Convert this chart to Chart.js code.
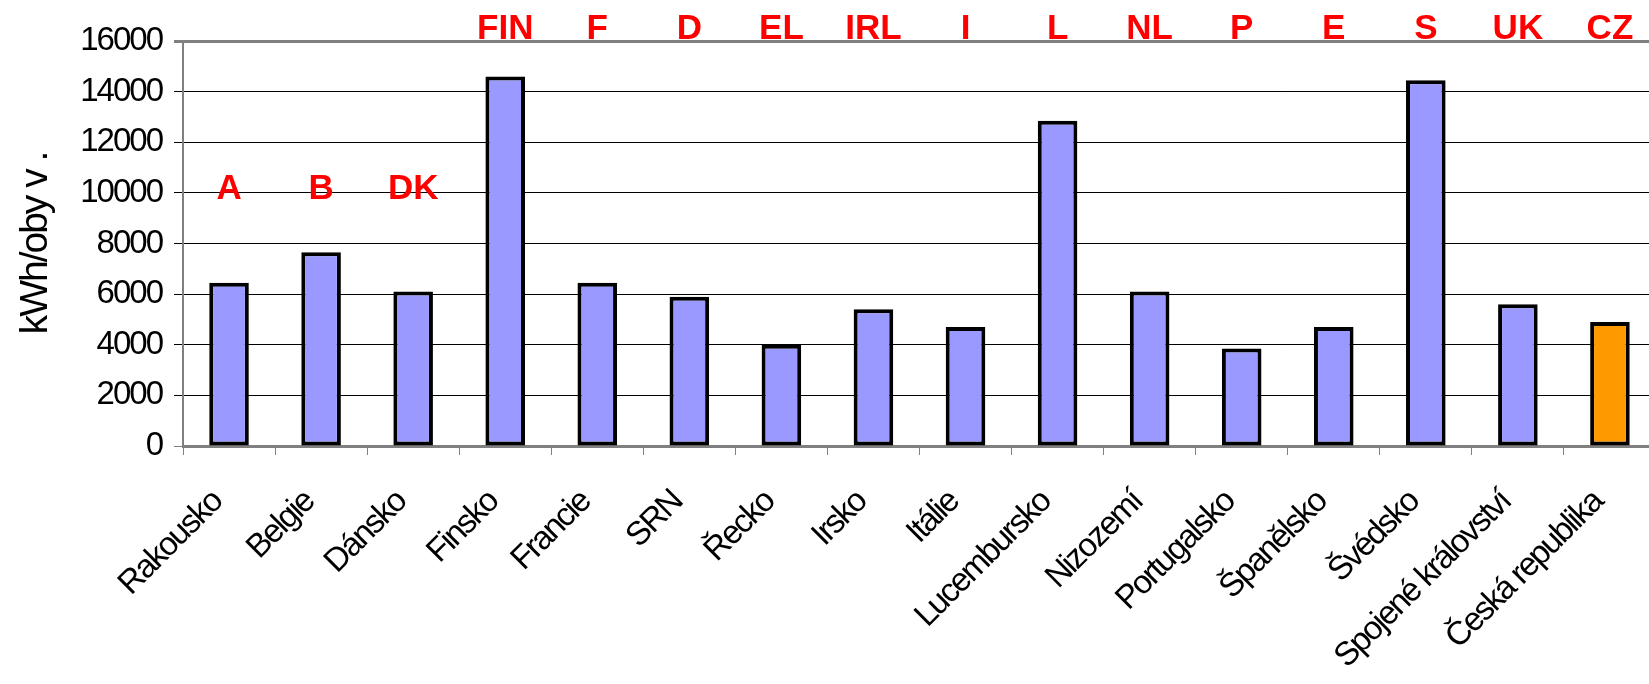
<!DOCTYPE html>
<html>
<head>
<meta charset="utf-8">
<script src="https://cdn.jsdelivr.net/npm/chart.js@4/dist/chart.umd.min.js"></script>
<style>
  html, body { margin: 0; padding: 0; background: #fff; overflow: hidden; }
  #wrap { width: 1649px; height: 684px; overflow: hidden; }
</style>
</head>
<body>
<div id="wrap"><canvas id="myChart" width="1666" height="684"></canvas></div>
<script>
const countries = ['Rakousko', 'Belgie', 'Dánsko', 'Finsko', 'Francie', 'SRN', 'Řecko', 'Irsko',
    'Itálie', 'Lucembursko', 'Nizozemí', 'Portugalsko', 'Španělsko', 'Švédsko',
    'Spojené království', 'Česká republika'];
const codes = ['A', 'B', 'DK', 'FIN', 'F', 'D', 'EL', 'IRL', 'I', 'L', 'NL', 'P', 'E', 'S', 'UK', 'CZ'];
const consumption = [6450, 7650, 6100, 14600, 6450, 5900, 4000, 5400, 4700, 12850, 6100, 3850, 4700, 14450, 5600, 4900];
const yTicks = [0, 2000, 4000, 6000, 8000, 10000, 12000, 14000, 16000];

const barColors = countries.map(c => c === 'Česká republika' ? '#ff9900' : '#9999ff');
const fam = '"Liberation Sans", Arial, sans-serif';

// the original text is set tight, squeeze the letters a bit
const tightText = {
    id: 'tightText',
    beforeUpdate: (chart) => { chart.ctx.letterSpacing = '-2px'; },
    beforeRender: (chart) => { chart.ctx.letterSpacing = '-2px'; },
};

// country codes written in red over the plot
const codePlugin = {
    id: 'countryCodes',
    afterDraw: (chart) => {
        const { ctx, scales, chartArea } = chart;
        ctx.save();
        ctx.letterSpacing = '0px';
        ctx.fillStyle = '#ff0000';
        ctx.font = 'bold 35px ' + fam;
        ctx.textAlign = 'center';
        ctx.textBaseline = 'alphabetic';
        codes.forEach((code, i) => {
            const x = scales.x.getPixelForValue(i);
            // the first three sit down at the 10000 line, the rest above the plot
            const y = i < 3 ? scales.y.getPixelForValue(10000) + 6 : chartArea.top - 2;
            ctx.fillText(code, x, y);
        });
        ctx.restore();
    }
};

const ctx = document.getElementById('myChart').getContext('2d');
const chart = new Chart(ctx, {
    type: 'bar',
    data: {
        labels: countries,
        datasets: [{
            data: consumption,
            backgroundColor: barColors,
            borderColor: '#000000',
            borderWidth: 4,
            borderSkipped: false,
            barPercentage: 1.0,
            categoryPercentage: 0.43,
        }]
    },
    options: {
        responsive: false,
        animation: false,
        layout: {
            padding: { top: 41, right: 2, left: 0, bottom: 0 }
        },
        plugins: {
            legend: { display: false },
            tooltip: { enabled: false },
        },
        scales: {
            x: {
                offset: true,
                grid: {
                    display: true,
                    offset: true,
                    drawOnChartArea: false,
                    drawTicks: true,
                    tickLength: 9,
                    color: '#808080',
                    lineWidth: 1,
                },
                border: { display: true, color: '#808080', width: 3 },
                ticks: {
                    autoSkip: false,
                    minRotation: 45,
                    maxRotation: 45,
                    padding: 28,
                    labelOffset: -12,
                    color: '#000000',
                    font: { size: 33, family: fam },
                },
                afterFit: (axis) => { axis.height = 238; },
            },
            y: {
                min: 0,
                max: 16000,
                afterBuildTicks: (axis) => { axis.ticks = yTicks.map(v => ({ value: v })); },
                grid: {
                    drawTicks: true,
                    tickLength: 9,
                    color: (c) => (c.tick && (c.tick.value === 16000 || c.tick.value === 0)) ? '#808080' : '#000000',
                    lineWidth: (c) => (c.tick && c.tick.value === 16000) ? 3 : 1,
                },
                border: { display: true, color: '#808080', width: 2 },
                ticks: {
                    padding: 12,
                    color: '#000000',
                    callback: (v) => String(v),
                    font: { size: 33, family: fam },
                },
                title: {
                    display: true,
                    text: 'kWh/oby v .',
                    color: '#000000',
                    padding: { top: 13, bottom: 0 },
                    font: { size: 39, family: fam },
                },
                afterFit: (axis) => { axis.width = 183; },
            },
        },
    },
    plugins: [tightText, codePlugin],
});
</script>
</body>
</html>
